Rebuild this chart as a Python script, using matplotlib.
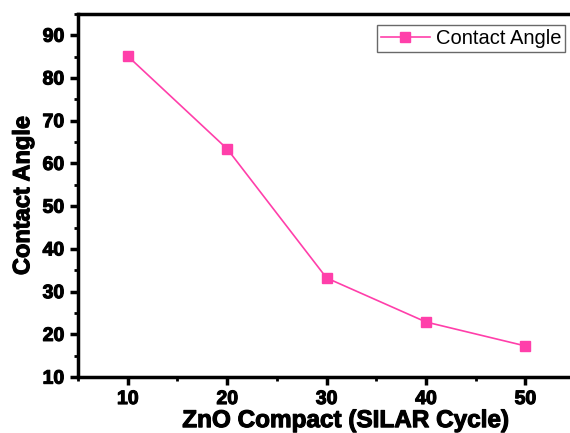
import numpy as np
import matplotlib.pyplot as plt
import matplotlib.patheffects as pe
from matplotlib.ticker import MultipleLocator

# SILAR cycles vs measured water contact angle
cycles = [10, 20, 30, 40, 50]
contact_angle = [85.1, 63.4, 33.2, 22.9, 17.3]

plt.rcParams["font.family"] = ["Liberation Sans", "DejaVu Sans"]

fig = plt.figure(figsize=(5.7, 4.33), dpi=100)
ax = fig.add_axes([0.137, 0.129, 0.872, 0.839])

pink = "#FF3FAA"
ax.plot(cycles, contact_angle, color=pink, lw=1.2, marker="s", ms=6.5,
        markerfacecolor=pink, markeredgecolor=pink, label="Contact Angle")

ax.set_xlim(5, 55)
ax.set_ylim(10, 95)
ax.xaxis.set_major_locator(MultipleLocator(10))
ax.xaxis.set_minor_locator(MultipleLocator(5))
ax.yaxis.set_major_locator(MultipleLocator(10))
ax.yaxis.set_minor_locator(MultipleLocator(5))

for side in ["left", "bottom", "top"]:
    ax.spines[side].set_linewidth(2.5)
ax.spines["right"].set_visible(False)

ax.tick_params(which="major", direction="out", length=6, width=2.5,
               labelsize=14, pad=4)
ax.tick_params(which="minor", direction="out", length=3, width=2)
ax.tick_params(top=False, right=False, which="both")

heavy = [pe.withStroke(linewidth=0.8, foreground="black")]
for lbl in ax.get_xticklabels() + ax.get_yticklabels():
    lbl.set_fontweight("bold")
    lbl.set_path_effects(heavy)

ax.set_xlabel("ZnO Compact (SILAR Cycle)", fontsize=17.5, fontweight="bold",
              path_effects=heavy)
ax.xaxis.set_label_coords(0.538, -0.088)
ax.set_ylabel("Contact Angle", fontsize=17, fontweight="bold",
              labelpad=6, path_effects=heavy)

leg = ax.legend(loc="upper right", bbox_to_anchor=(0.98, 0.97), fontsize=14.5,
                frameon=True, fancybox=False, borderpad=0.2, handlelength=2.4,
                handletextpad=0.3, borderaxespad=0)
leg.get_frame().set_edgecolor("#444444")
leg.get_frame().set_linewidth(1.0)

fig.savefig("out.png", dpi=100)
